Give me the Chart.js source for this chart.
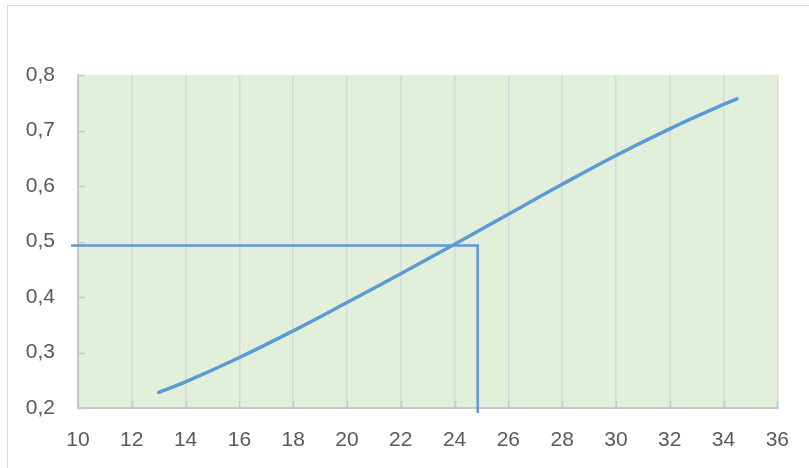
<!DOCTYPE html>
<html>
<head>
<meta charset="utf-8">
<script src="https://cdn.jsdelivr.net/npm/chart.js@4"></script>
<style>
  html, body { margin: 0; padding: 0; background: #fff; }
  #wrap { position: relative; width: 809px; height: 468px; overflow: hidden; }
  #frame { position: absolute; left: 7px; top: 5px; width: 900px; height: 600px;
           border-top: 1px solid #d9d9d9; border-left: 1px solid #d9d9d9; }
  canvas { position: absolute; left: 0; top: 0; }
</style>
</head>
<body>
<div id="wrap">
  <div id="frame"></div>
  <canvas id="chart" width="809" height="468"></canvas>
</div>
<script>
// curve
const curveX = [13, 14, 16, 18, 20, 22, 24, 26, 28, 30, 32, 34, 34.5];
const curveY = [0.228, 0.247, 0.291, 0.339, 0.390, 0.442, 0.495, 0.549, 0.603, 0.655, 0.703, 0.747, 0.757];

// reading guide: across at 0.493, then down at x = 24.86
const guideX = [9.74, 24.86, 24.86];
const guideY = [0.493, 0.493, 0.191];

const xTicks = [10, 12, 14, 16, 18, 20, 22, 24, 26, 28, 30, 32, 34, 36];
const yTicks = [0.2, 0.3, 0.4, 0.5, 0.6, 0.7, 0.8];

const toPoints = (xs, ys) => xs.map((x, i) => ({ x: x, y: ys[i] }));

const plotBg = {
  id: 'plotBg',
  beforeDraw(chart) {
    const { ctx, chartArea: a } = chart;
    ctx.save();
    ctx.fillStyle = '#e2efda';
    ctx.fillRect(a.left, a.top, a.right - a.left, a.bottom - a.top);
    ctx.restore();
  },
  // small tick marks pointing into the plot
  beforeDatasetsDraw(chart) {
    const { ctx, chartArea: a, scales } = chart;
    ctx.save();
    ctx.strokeStyle = '#c8c8c8';
    ctx.lineWidth = 1.5;
    ctx.beginPath();
    yTicks.forEach(v => {
      const y = Math.round(scales.y.getPixelForValue(v)) + 0.5;
      ctx.moveTo(a.left, y);
      ctx.lineTo(a.left + 7, y);
    });
    xTicks.forEach(v => {
      const x = Math.round(scales.x.getPixelForValue(v)) + 0.5;
      ctx.moveTo(x, a.bottom);
      ctx.lineTo(x, a.bottom - 7);
    });
    ctx.stroke();
    ctx.restore();
  }
};

const tickFont = { family: '"Liberation Sans", Arial, sans-serif', size: 21 };

new Chart(document.getElementById('chart').getContext('2d'), {
  type: 'scatter',
  data: {
    datasets: [
      {
        data: toPoints(curveX, curveY),
        showLine: true,
        borderColor: '#5b9bd5',
        borderWidth: 3.5,
        pointRadius: 0,
        tension: 0.4,
        borderCapStyle: 'round'
      },
      {
        data: toPoints(guideX, guideY),
        showLine: true,
        borderColor: '#5b9bd5',
        borderWidth: 2.5,
        pointRadius: 0,
        tension: 0,
        clip: false
      }
    ]
  },
  options: {
    responsive: false,
    animation: false,
    layout: { padding: { top: 75, right: 30, left: 0, bottom: 0 } },
    plugins: { legend: { display: false }, tooltip: { enabled: false } },
    scales: {
      x: {
        type: 'linear',
        min: 10,
        max: 36,
        afterBuildTicks: s => { s.ticks = xTicks.map(v => ({ value: v })); },
        afterFit: s => { s.height = 60; },
        grid: { color: '#d9d9d9', lineWidth: 1.5, drawTicks: false },
        border: { display: true, color: '#c8c8c8', width: 2 },
        ticks: { color: '#595959', font: tickFont, padding: 20, maxRotation: 0 }
      },
      y: {
        min: 0.2,
        max: 0.8,
        afterBuildTicks: s => { s.ticks = yTicks.map(v => ({ value: v })); },
        afterFit: s => { s.width = 78; },
        grid: { display: false, drawTicks: false },
        border: { display: true, color: '#c8c8c8', width: 2 },
        ticks: {
          color: '#595959',
          font: tickFont,
          padding: 23,
          callback: v => v.toFixed(1).replace('.', ',')
        }
      }
    }
  },
  plugins: [plotBg]
});
</script>
</body>
</html>
